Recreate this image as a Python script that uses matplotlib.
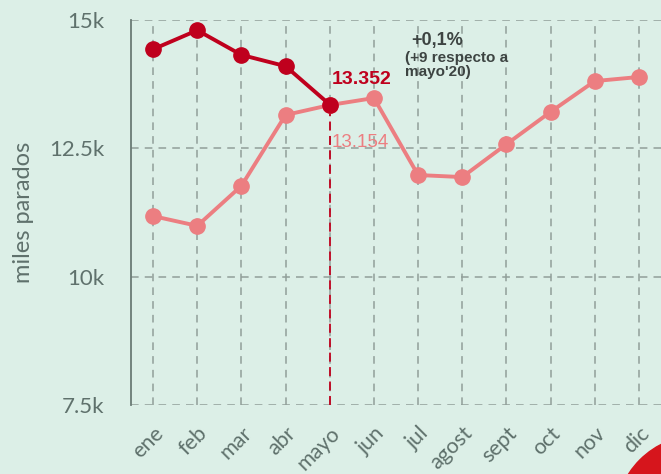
import matplotlib
matplotlib.use("Agg")
import matplotlib.pyplot as plt
from matplotlib.patches import Circle

months = ["ene", "feb", "mar", "abr", "mayo", "jun", "jul", "agost", "sept", "oct", "nov", "dic"]
y2021 = [14430, 14800, 14320, 14100, 13352]
y2020 = [11180, 10990, 11770, 13150, 13343, 13480, 11980, 11940, 12580, 13210, 13810, 13890]
yticks = [7500, 10000, 12500, 15000]
ytick_labels = ["7.5k", "10k", "12.5k", "15k"]

bg = "#dcefe7"
grid_c = "#919f9a"
text_c = "#5f716c"
dark_red = "#bf001d"
pink = "#ec7e81"

fig = plt.figure(figsize=(6.61, 4.74), dpi=100)
fig.patch.set_facecolor(bg)
ax = fig.add_axes([131/661, 1-405/474, 1-131/661, (405-20)/474])
ax.set_facecolor(bg)

x20 = list(range(len(y2020)))
x21 = list(range(len(y2021)))

ax.set_xlim(-0.5, 11.5)
ax.set_ylim(7500, 15000)

# grid
for xi in x20:
    ax.axvline(xi, color=grid_c, lw=1.1, ls=(0, (5, 4)), zorder=1)
for yv in yticks:
    ax.axhline(yv, color=grid_c, lw=1.1, ls=(0, (5, 4)), zorder=1)

# vertical marker at mayo
ax.plot([4, 4], [7500, y2021[4]], color=dark_red, lw=1.3, ls=(0, (5, 3)), zorder=2)

ax.plot(x20, y2020, color=pink, lw=2.8, marker="o", ms=11, zorder=3)
ax.plot(x21, y2021, color=dark_red, lw=2.8, marker="o", ms=11, zorder=4)

for s in ["top", "right", "bottom"]:
    ax.spines[s].set_visible(False)
ax.spines["left"].set_color("#6b7b76")
ax.spines["left"].set_linewidth(1.3)

ax.set_yticks(yticks)
ax.set_yticklabels(ytick_labels, fontsize=16, color=text_c, family="Lato")
ax.set_xticks(x20)
ax.set_xticklabels(months, fontsize=15.5, color=text_c, family="Lato", rotation=45,
                   ha="right", rotation_mode="anchor")
ax.tick_params(axis="x", length=0, pad=13)
ax.tick_params(axis="y", length=0, pad=19)
ax.set_ylabel("miles parados", fontsize=17, color=text_c, family="Lato", labelpad=11)

ax.text(4.05, 13850, "13.352", color=dark_red, fontsize=14, fontweight="bold",
        family="Liberation Sans", ha="left", va="center")
ax.text(4.05, 12620, "13.154", color=pink, fontsize=13.5, family="Liberation Sans",
        ha="left", va="center")
ax.text(5.85, 14610, "+0,1%", color="#3d4442", fontsize=13, fontweight="bold",
        family="Liberation Sans", ha="left", va="center")
ax.text(5.7, 14390, "(+9 respecto a\nmayo'20)", color="#3d4442", fontsize=11,
        family="Liberation Sans", ha="left", va="top", linespacing=1.0,
        fontweight="semibold")

# decorative red corner
fig.patches.append(Circle((7.00, -0.46), 0.85, transform=fig.dpi_scale_trans,
                          color="#d6151c", zorder=0))

fig.savefig("out.png", dpi=100, facecolor=bg)
